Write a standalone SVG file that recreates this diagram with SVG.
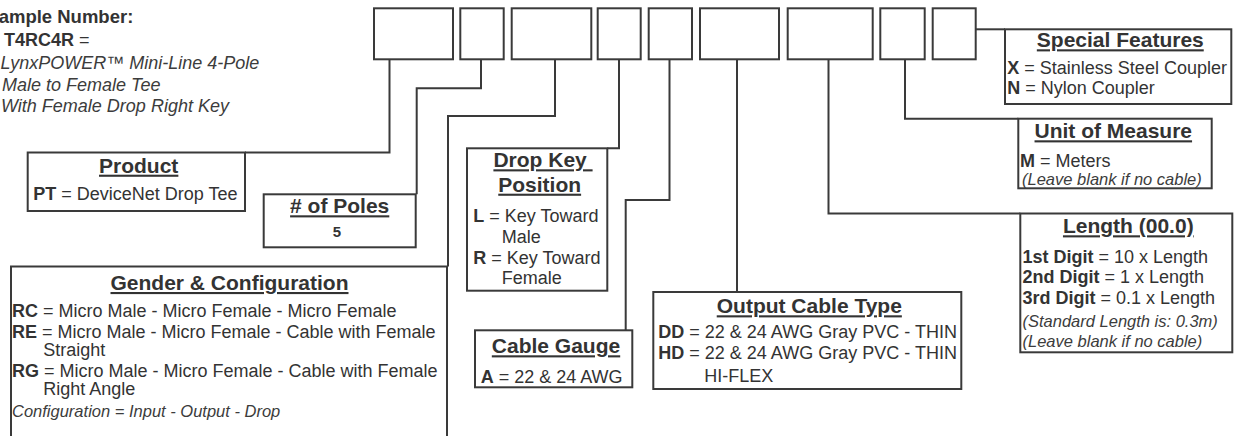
<svg xmlns="http://www.w3.org/2000/svg" width="1241" height="436" viewBox="0 0 1241 436">
<style>
.box{fill:#fff;stroke:#3a3a3a;stroke-width:2}
.conn{fill:none;stroke:#3a3a3a;stroke-width:2}
text{font-family:"Liberation Sans",Arial,sans-serif;fill:#333}
.t{font-size:21px;font-weight:bold;text-decoration:underline;text-anchor:middle;white-space:pre}
.b{font-size:18px}
.k{font-weight:bold}
.n{font-size:16.5px;font-style:italic;fill:#3c3c3c}
.s{font-size:18px;font-style:italic;fill:#3c3c3c}
</style>
<rect x="0" y="0" width="1241" height="436" fill="#fff"/>

<g id="sample">
<text x="133.3" y="22.5" font-size="18.5" font-weight="bold" text-anchor="end">ample Number:</text>
<text x="4" y="46" font-size="18"><tspan font-weight="bold">T4RC4R</tspan> =</text>
<text class="s" x="0.5" y="68.5">LynxPOWER™ Mini-Line 4-Pole</text>
<text class="s" x="2" y="90.5">Male to Female Tee</text>
<text class="s" x="1" y="112.3">With Female Drop Right Key</text>
</g>

<g id="code-boxes">
<rect id="c1" class="box" x="374" y="8.3" width="79" height="51"/>
<rect id="c2" class="box" x="460.3" y="8.3" width="43.4" height="51"/>
<rect id="c3" class="box" x="511.7" y="8.3" width="79.6" height="51"/>
<rect id="c4" class="box" x="597.7" y="8.3" width="43" height="51"/>
<rect id="c5" class="box" x="648.7" y="8.3" width="43.3" height="51"/>
<rect id="c6" class="box" x="700" y="8.3" width="79" height="51"/>
<rect id="c7" class="box" x="787.7" y="8.3" width="85" height="51"/>
<rect id="c8" class="box" x="880.3" y="8.3" width="44.4" height="51"/>
<rect id="c9" class="box" x="932.7" y="8.3" width="43" height="51"/>
</g>

<g id="connectors">
<polyline class="conn" points="389.5,59.3 389.5,152.5 245,152.5"/>
<polyline class="conn" points="481,59.3 481,88.3 416.7,88.3 416.7,194.3"/>
<polyline class="conn" points="555,59.3 555,116 448,116 448,266.5"/>
<polyline class="conn" points="619,59.3 619,148.3 607.3,148.3"/>
<polyline class="conn" points="669.5,59.3 669.5,200 625.7,200 625.7,330.3"/>
<polyline class="conn" points="737,59.3 737,292"/>
<polyline class="conn" points="828.5,59.3 828.5,213.5 1020.3,213.5"/>
<polyline class="conn" points="905,59.3 905,118.7 1018.3,118.7"/>
<polyline class="conn" points="975.7,29.3 1005,29.3"/>
</g>

<g id="product">
<rect class="box" x="27.7" y="152.5" width="217.3" height="58.5"/>
<text class="t" x="138.7" y="172.7">Product</text>
<text class="b" x="33.3" y="200"><tspan class="k">PT</tspan> = DeviceNet Drop Tee</text>
</g>

<g id="poles">
<rect class="box" x="263.7" y="194.3" width="152" height="53"/>
<text class="t" x="339.7" y="213.3"># of Poles</text>
<text x="337" y="236.7" font-size="15" font-weight="bold" text-anchor="middle">5</text>
</g>

<g id="gender">
<rect class="box" x="11" y="266.5" width="436" height="180"/>
<text class="t" x="229.5" y="290">Gender &amp; Configuration</text>
<text class="b" x="12" y="317.3"><tspan class="k">RC</tspan> = Micro Male - Micro Female - Micro Female</text>
<text class="b" x="12" y="338.3"><tspan class="k">RE</tspan> = Micro Male - Micro Female - Cable with Female</text>
<text class="b" x="43.3" y="356.2">Straight</text>
<text class="b" x="12" y="376.9"><tspan class="k">RG</tspan> = Micro Male - Micro Female - Cable with Female</text>
<text class="b" x="43.3" y="394.8">Right Angle</text>
<text class="n" x="12" y="416.7">Configuration = Input - Output - Drop</text>
</g>

<g id="dropkey">
<rect class="box" x="467" y="148.3" width="140.3" height="142.4"/>
<text class="t" x="543" y="167.3">Drop Key </text>
<text class="t" x="539.7" y="191.7">Position</text>
<text class="b" x="473.3" y="222.3"><tspan class="k">L</tspan> = Key Toward</text>
<text class="b" x="501.7" y="242.7">Male</text>
<text class="b" x="473.3" y="264"><tspan class="k">R</tspan> = Key Toward</text>
<text class="b" x="501.7" y="284.3">Female</text>
</g>

<g id="gauge">
<rect class="box" x="475" y="330.3" width="157.3" height="57"/>
<text class="t" x="556" y="353.3">Cable Gauge</text>
<text class="b" x="480.7" y="383.3"><tspan class="k">A</tspan> = 22 &amp; 24 AWG</text>
</g>

<g id="output">
<rect class="box" x="653.3" y="292" width="308" height="97"/>
<text class="t" x="809.3" y="313.3">Output Cable Type</text>
<text class="b" x="658.3" y="338.3"><tspan class="k">DD</tspan> = 22 &amp; 24 AWG Gray PVC - THIN</text>
<text class="b" x="658.3" y="359"><tspan class="k">HD</tspan> = 22 &amp; 24 AWG Gray PVC - THIN</text>
<text class="b" x="704.3" y="381.7">HI-FLEX</text>
</g>

<g id="length">
<rect class="box" x="1020.3" y="213.5" width="212" height="138.8"/>
<text class="t" x="1128.3" y="233.3">Length (00.0)</text>
<text class="b" x="1022.5" y="262.7"><tspan class="k">1st Digit</tspan> = 10 x Length</text>
<text class="b" x="1022.5" y="283.3"><tspan class="k">2nd Digit</tspan> = 1 x Length</text>
<text class="b" x="1022.5" y="304"><tspan class="k">3rd Digit</tspan> = 0.1 x Length</text>
<text class="n" x="1022.5" y="327.3">(Standard Length is: 0.3m)</text>
<text class="n" x="1022.5" y="346.7">(Leave blank if no cable)</text>
</g>

<g id="unit">
<rect class="box" x="1018.3" y="118.7" width="193.4" height="69.6"/>
<text class="t" x="1113.3" y="138.3">Unit of Measure</text>
<text class="b" x="1020" y="166.7"><tspan class="k">M</tspan> = Meters</text>
<text class="n" x="1022" y="185">(Leave blank if no cable)</text>
</g>

<g id="special">
<rect class="box" x="1005" y="29.3" width="226.3" height="74.7"/>
<text class="t" x="1120.3" y="47.3">Special Features</text>
<text class="b" x="1007.3" y="74.3"><tspan class="k">X</tspan> = Stainless Steel Coupler</text>
<text class="b" x="1007.3" y="94"><tspan class="k">N</tspan> = Nylon Coupler</text>
</g>
</svg>
